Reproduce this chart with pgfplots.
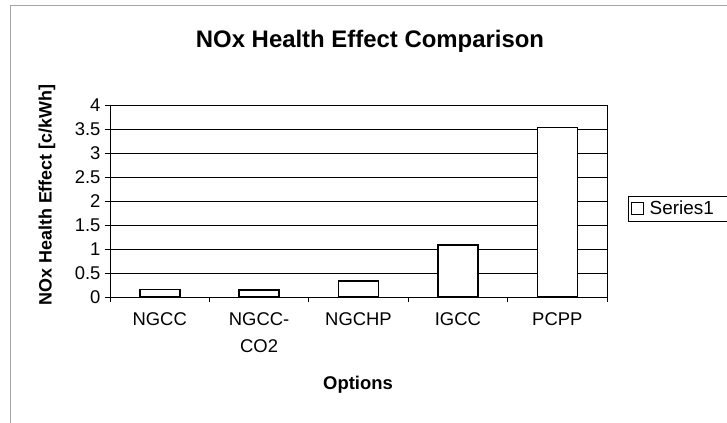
\documentclass[border=0pt]{standalone}
\usepackage{pgfplots}
\pgfplotsset{compat=1.18}
\usepackage{fontspec}
\setmainfont{Liberation Sans}
\begin{document}
\begin{tikzpicture}
\path[use as bounding box] (0bp,0bp) rectangle (727bp,423bp);
\draw[gray!70,line width=0.8bp] (10bp,0bp) -- (10bp,418bp) -- (727bp,418bp);
\begin{axis}[
  at={(110bp,126bp)}, anchor=south west,
  scale only axis, width=497bp, height=192bp,
  xmin=-0.5, xmax=4.5, ymin=0, ymax=4,
  ytick={0,0.5,1,1.5,2,2.5,3,3.5,4},
  yticklabels={0,0.5,1,1.5,2,2.5,3,3.5,4},
  xtick={0,1,2,3,4},
  xticklabels={NGCC,{NGCC-\\CO2},NGCHP,IGCC,PCPP},
  minor xtick={-0.5,0.5,1.5,2.5,3.5,4.5},
  xtick pos=bottom, ytick pos=left,
  xticklabel style={align=center, font=\fontsize{18.5}{27}\selectfont, anchor=north, yshift=-7bp},
  yticklabel style={font=\fontsize{18.5}{20}\selectfont, xshift=-1bp},
  /pgf/number format/assume math mode=true,
  tick align=outside,
  major tick length=5bp, minor tick length=5bp,
  x tick style={draw=none},
  minor x tick style={draw=black, line width=0.8bp},
  y tick style={black, line width=0.8bp},
  ymajorgrids,
  grid style={black, line width=0.9bp},
  axis line style={black, line width=0.9bp},
  ybar, bar width=40bp,
  legend style={at={(1.042,0.46)}, anchor=west, draw=black, line width=0.6bp,
    font=\fontsize{19}{21}\selectfont, inner xsep=3bp, inner ysep=3bp,
    text width=110bp},
  legend image code/.code={\draw[black, fill=white, line width=1.3bp] (0bp,-6bp) rectangle (12bp,6bp);},
]
\addplot[draw=black, fill=white, line width=1.6bp] coordinates {
  (0,0.16) (1,0.15) (2,0.33) (3,1.08) (4,3.53)
};
\addlegendentry{\,Series1}
\end{axis}
\node[font=\bfseries\fontsize{24}{28}\selectfont] at (370bp,382bp) {NOx Health Effect Comparison};
\node[font=\bfseries\fontsize{18.5}{20}\selectfont] at (358bp,38bp) {Options};
\node[font=\bfseries\fontsize{18}{20}\selectfont, rotate=90] at (47bp,228bp) {NOx Health Effect [c/kWh]};
\end{tikzpicture}
\end{document}
